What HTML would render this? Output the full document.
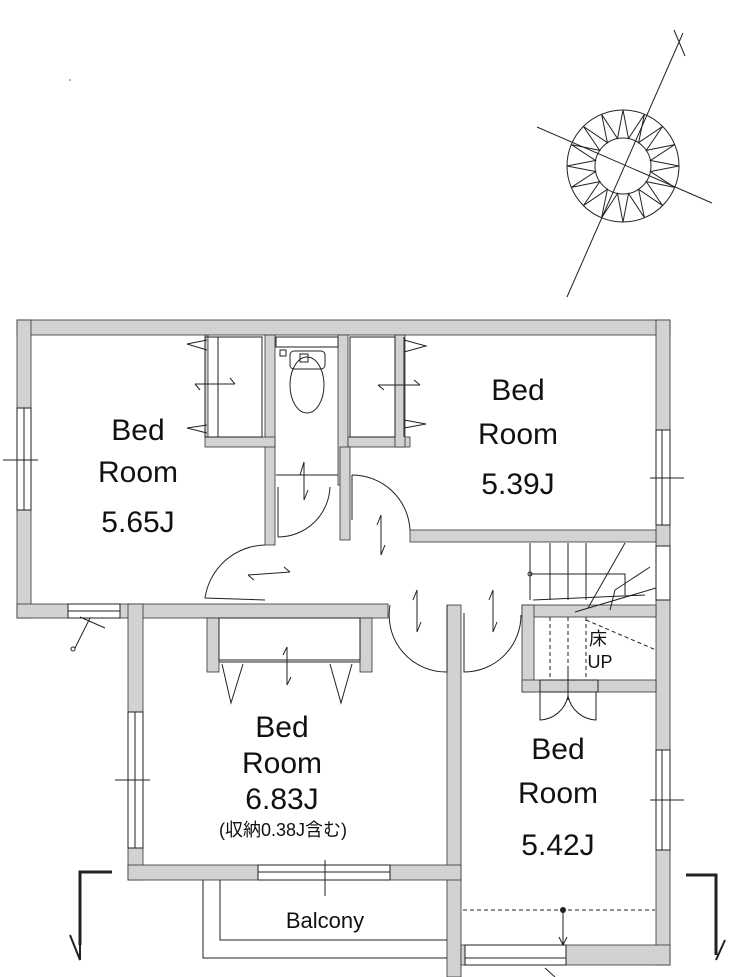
<!DOCTYPE html>
<html><head><meta charset="utf-8"><style>
html,body{margin:0;padding:0;background:#fff;}
svg{display:block;}
text{font-family:"Liberation Sans","Noto Sans CJK JP",sans-serif;fill:#111;}
</style></head><body>
<svg width="733" height="977" viewBox="0 0 733 977" xmlns="http://www.w3.org/2000/svg">
<!-- compass -->
<g fill="none" stroke="#222" stroke-width="1">
<circle cx="623" cy="166" r="56"/>
<circle cx="623" cy="166" r="28"/>
<line x1="567" y1="297" x2="683" y2="33"/>
<line x1="537" y1="127" x2="712" y2="203"/>
<line x1="674" y1="30" x2="685" y2="56"/>
<polygon points="679,166 650.5,171.5 674.7,187.4 646.3,181.6 662.6,205.6 638.6,189.3 644.4,217.7 628.5,193.5 623,222 617.5,193.5 601.6,217.7 607.4,189.3 583.4,205.6 599.7,181.6 571.3,187.4 595.5,171.5 567,166 595.5,160.5 571.3,144.6 599.7,150.4 583.4,126.4 607.4,142.7 601.6,114.3 617.5,138.5 623,110 628.5,138.5 644.4,114.3 638.6,142.7 662.6,126.4 646.3,150.4 674.7,144.6 650.5,160.5"/>
</g>
<circle cx="70" cy="80" r="0.8" fill="#666"/>
<!-- walls -->
<g fill="#d2d2d2" stroke="#333" stroke-width="0.8">
<rect x="17" y="320" width="653" height="15"/>
<rect x="17" y="320" width="14" height="298"/>
<rect x="17" y="604" width="371" height="14"/>
<rect x="656" y="320" width="14" height="645"/>
<rect x="265" y="335" width="10" height="210"/>
<rect x="338" y="335" width="10" height="150"/>
<rect x="205" y="437" width="70" height="10"/>
<rect x="205" y="335" width="3" height="102"/>
<rect x="348" y="437" width="62" height="10"/>
<rect x="395" y="335" width="10" height="112"/>
<rect x="340" y="447" width="10" height="93"/>
<rect x="410" y="530" width="246" height="12"/>
<rect x="522" y="605" width="134" height="12"/>
<rect x="522" y="605" width="12" height="87"/>
<rect x="522" y="680" width="134" height="12"/>
<rect x="447" y="605" width="14" height="372"/>
<rect x="128" y="604" width="15" height="276"/>
<rect x="128" y="865" width="333" height="15"/>
<rect x="207" y="618" width="12" height="54"/>
<rect x="360" y="618" width="12" height="54"/>
<rect x="461" y="945" width="209" height="20"/>
</g>
<!-- windows -->
<g fill="#fff" stroke="#222" stroke-width="1">
<rect x="17" y="408" width="14" height="102"/><line x1="24" y1="408" x2="24" y2="510"/>
<rect x="656" y="430" width="14" height="95"/><line x1="662" y1="430" x2="662" y2="525"/>
<rect x="656" y="546" width="14" height="54"/>
<rect x="128" y="712" width="15" height="136"/><line x1="135" y1="712" x2="135" y2="848"/>
<rect x="656" y="750" width="14" height="100"/><line x1="662" y1="750" x2="662" y2="850"/>
<rect x="68" y="604" width="52" height="14"/><line x1="68" y1="611" x2="120" y2="611"/>
<rect x="258" y="865" width="132" height="15"/><line x1="258" y1="872" x2="390" y2="872"/>
<rect x="465" y="945" width="101" height="20"/><line x1="465" y1="958" x2="566" y2="958"/>
</g>
<!-- window tick marks -->
<g stroke="#222" stroke-width="1" fill="none">
<line x1="3" y1="460" x2="38" y2="460"/>
<line x1="650" y1="478" x2="684" y2="478"/>
<line x1="115" y1="780" x2="150" y2="780"/>
<line x1="650" y1="800" x2="684" y2="800"/>
<line x1="90" y1="618" x2="75" y2="648"/><line x1="80" y1="617" x2="105" y2="628"/>
<circle cx="73" cy="649" r="2"/>
<line x1="325" y1="860" x2="325" y2="896"/>
<line x1="545" y1="968" x2="555" y2="977"/>
</g>
<!-- closets, doors -->
<g stroke="#222" stroke-width="1" fill="none">
<rect x="205" y="337" width="57" height="100"/>
<line x1="218" y1="337" x2="218" y2="437"/>
<path d="M207,340 L187,344 L207,350 M207,425 L187,428 L207,433"/>
<path d="M195,384 L235,384 M195,384 L200,390 M235,384 L230,378"/>
<rect x="350" y="337" width="45" height="100"/>
<line x1="404" y1="337" x2="404" y2="437"/>
<path d="M404,340 L426,346 L404,352 M404,420 L426,424 L404,428"/>
<path d="M378,385 L420,385 M378,385 L384,390 M420,385 L414,380"/>
<rect x="276" y="337" width="62" height="10"/>
<rect x="290" y="351" width="35" height="18" rx="4"/>
<rect x="300" y="354" width="8" height="8"/>
<ellipse cx="307" cy="385" rx="17" ry="28"/>
<rect x="280" y="350" width="6" height="6"/>
<line x1="276" y1="475" x2="338" y2="475"/>
<path d="M278,487 L278,537 M278,537 A52,52 0 0 0 330,487"/>
<path d="M304,462 L304,500 M304,462 L300,475 M304,500 L308,490"/>
<path d="M265,545 A62,62 0 0 0 205,598 L265,600"/>
<path d="M248,575 L290,572 M248,575 L254,580 M290,572 L284,567"/>
<path d="M352,475 L352,520 M352,475 A58,58 0 0 1 410,530"/>
<path d="M381,515 L381,555 M381,515 L377,525 M381,555 L385,545"/>
<path d="M390,605 A57,57 0 0 0 447,672 L447,605"/>
<path d="M417,590 L417,632 M417,590 L413,600 M417,632 L421,622"/>
<path d="M464,613 L464,672 A57,57 0 0 0 521,615"/>
<path d="M493,590 L493,632 M493,590 L489,600 M493,632 L497,622"/>
<rect x="219" y="618" width="141" height="42"/>
<line x1="219" y1="662" x2="360" y2="662"/>
<path d="M222,664 L231,703 L243,664 M330,664 L341,703 L352,664"/>
<path d="M287,647 L287,685 M287,647 L283,655 M287,685 L291,677"/>
<line x1="530" y1="543" x2="530" y2="600"/>
<line x1="550" y1="543" x2="550" y2="600"/>
<line x1="568" y1="543" x2="568" y2="600"/>
<line x1="586" y1="543" x2="586" y2="600"/>
<line x1="533" y1="600" x2="645" y2="595"/>
<path d="M530,574 L625,574 L625,595"/>
<circle cx="530" cy="574" r="2"/>
<path d="M625,543 L588,608 M650,567 L615,590 L610,610 M575,612 L656,588"/>
<line x1="550" y1="617" x2="550" y2="680" stroke-dasharray="4,3"/>
<line x1="568" y1="617" x2="568" y2="680" stroke-dasharray="4,3"/>
<line x1="586" y1="617" x2="586" y2="680" stroke-dasharray="4,3"/>
<line x1="586" y1="620" x2="656" y2="650" stroke-dasharray="4,3"/>
<rect x="540" y="680" width="58" height="12"/>
<path d="M540,692 L540,720 A30,30 0 0 0 568,696 M596,692 L596,720 A30,30 0 0 1 568,696"/>
<line x1="568" y1="668" x2="568" y2="700"/>
<line x1="463" y1="910" x2="655" y2="910" stroke-dasharray="4,3"/>
<line x1="563" y1="910" x2="563" y2="945"/>
<path d="M559,937 L563,945 L567,937"/>
<polyline points="203,880 203,958 447,958"/>
<polyline points="220,880 220,940 447,940"/>
<polyline points="112,872 80,872 80,945" stroke-width="3"/>
<path d="M70,935 L80,960 L80,945" stroke-width="2"/>
<polyline points="686,875 716,875 716,955" stroke-width="3"/>
<path d="M725,940 L716,960" stroke-width="2"/>
</g>
<circle cx="563" cy="910" r="3" fill="#222"/>
<!-- labels -->
<g font-size="30" text-anchor="middle">
<text x="138" y="440">Bed</text>
<text x="138" y="482">Room</text>
<text x="138" y="532">5.65J</text>
<text x="518" y="400">Bed</text>
<text x="518" y="444">Room</text>
<text x="518" y="494">5.39J</text>
<text x="282" y="737">Bed</text>
<text x="282" y="773">Room</text>
<text x="282" y="809">6.83J</text>
<text x="558" y="759">Bed</text>
<text x="558" y="803">Room</text>
<text x="558" y="855">5.42J</text>
</g>
<text x="283" y="836" font-size="18" text-anchor="middle">(収納0.38J含む)</text>
<text x="325" y="928" font-size="22" text-anchor="middle">Balcony</text>
<text x="598" y="645" font-size="18" text-anchor="middle">床</text>
<text x="600" y="668" font-size="18" text-anchor="middle">UP</text>
</svg>
</body></html>
